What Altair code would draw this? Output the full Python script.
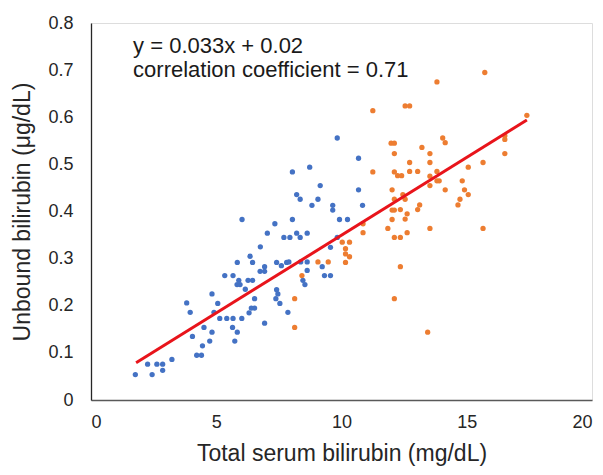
import altair as alt
import pandas as pd

# Blue group (x: total serum bilirubin mg/dL, y: unbound bilirubin µg/dL)
blue_x = [1.77, 2.26, 2.44, 2.63, 2.86, 2.86, 3.23, 3.82, 3.96, 4.05, 4.22, 4.41, 4.45, 4.51,
          4.74, 4.83, 4.83, 5.06, 4.91, 5.14, 5.34, 5.67, 5.83, 5.95, 5.90, 6.27, 6.16, 6.45,
          5.42, 5.67, 6.02, 5.65, 5.84, 5.74, 6.31, 6.53, 6.40, 6.53, 6.93, 6.75, 6.93, 6.93,
          5.84, 6.45, 7.41, 7.60, 7.81, 7.41, 7.38, 7.46, 7.54, 7.86, 8.04, 8.21, 8.35, 6.03,
          7.34, 8.04, 7.04, 7.70, 7.94, 8.21, 8.35, 6.76, 6.35, 9.83, 8.73, 9.15, 9.06, 8.82,
          9.65, 9.65, 10.68, 10.68, 9.92, 10.24, 8.63, 7.90, 8.37, 8.63, 8.63, 9.56, 9.23, 9.32,
          9.56, 8.46, 8.54, 10.84, 9.83]
blue_y = [0.054, 0.076, 0.054, 0.076, 0.076, 0.063, 0.086, 0.206, 0.186, 0.135, 0.095, 0.095, 0.115, 0.154,
          0.125, 0.144, 0.225, 0.205, 0.186, 0.173, 0.264, 0.264, 0.245, 0.245, 0.254, 0.254, 0.235, 0.254,
          0.173, 0.173, 0.173, 0.154, 0.144, 0.125, 0.185, 0.195, 0.195, 0.215, 0.163, 0.273, 0.283, 0.273,
          0.292, 0.292, 0.292, 0.285, 0.292, 0.234, 0.215, 0.225, 0.205, 0.186, 0.484, 0.436, 0.426, 0.383,
          0.374, 0.383, 0.354, 0.345, 0.345, 0.354, 0.345, 0.325, 0.305, 0.556, 0.494, 0.455, 0.426, 0.413,
          0.413, 0.403, 0.446, 0.513, 0.383, 0.383, 0.354, 0.293, 0.293, 0.293, 0.275, 0.324, 0.283, 0.264,
          0.264, 0.254, 0.245, 0.413, 0.345]

# Orange group
orange_x = [8.13, 8.13, 8.42, 9.06, 9.47, 10.03, 10.16, 10.32, 10.16, 10.32, 10.16, 11.25, 11.98, 12.11,
            12.11, 12.11, 12.24, 12.40, 12.02, 12.11, 12.02, 12.11, 12.02, 11.85, 12.11, 12.35, 12.35, 12.11,
            10.86, 10.86, 15.72, 13.81, 12.54, 12.72, 11.25, 13.21, 14.04, 14.14, 16.52, 16.52, 16.52, 13.53,
            13.53, 12.72, 12.72, 13.04, 13.53, 13.53, 13.81, 13.81, 13.90, 14.14, 15.06, 15.65, 14.82, 14.91,
            15.06, 14.73, 14.65, 15.65, 13.53, 12.45, 12.54, 12.35, 12.62, 12.54, 12.62, 13.12, 13.04, 13.44,
            17.40]
orange_y = [0.215, 0.154, 0.264, 0.293, 0.293, 0.335, 0.321, 0.335, 0.310, 0.304, 0.292, 0.484, 0.545, 0.545,
            0.523, 0.484, 0.476, 0.476, 0.446, 0.426, 0.403, 0.403, 0.383, 0.364, 0.345, 0.345, 0.283, 0.215,
            0.355, 0.374, 0.695, 0.675, 0.624, 0.624, 0.614, 0.536, 0.556, 0.546, 0.561, 0.553, 0.523, 0.523,
            0.504, 0.504, 0.485, 0.485, 0.475, 0.455, 0.485, 0.465, 0.465, 0.446, 0.494, 0.504, 0.465, 0.446,
            0.436, 0.426, 0.414, 0.364, 0.364, 0.436, 0.426, 0.404, 0.395, 0.384, 0.355, 0.414, 0.404, 0.144,
            0.604]

# Regression line end points
line_x = [1.8, 17.4]
line_y = [0.079, 0.594]

annot_text = ["y = 0.033x + 0.02", "correlation coefficient = 0.71"]
annot_x = [1.68, 1.68]
annot_y = [0.752, 0.700]

FONT = "Liberation Sans"

pts = pd.DataFrame({
    "x": blue_x + orange_x,
    "y": blue_y + orange_y,
    "g": ["blue"] * len(blue_x) + ["orange"] * len(orange_x),
})
line_df = pd.DataFrame({"x": line_x, "y": line_y})
ann_df = pd.DataFrame({"x": annot_x, "y": annot_y, "t": annot_text})

xs = alt.Scale(domain=[0, 20], nice=False)
ys = alt.Scale(domain=[0, 0.8], nice=False)

x_axis = alt.Axis(title="Total serum bilirubin (mg/dL)", values=[0, 5, 10, 15, 20], grid=False,
                  ticks=False, domainColor="#595959", domainWidth=1.3, labelFont=FONT, labelFontSize=18,
                  labelColor="#262626", labelPadding=13, titleFont=FONT, titleFontSize=23,
                  titleFontWeight="normal", titleColor="#262626", titlePadding=11)
y_axis = alt.Axis(title="Unbound bilirubin (\u03bcg/dL)", values=[0, 0.1, 0.2, 0.3, 0.4, 0.5, 0.6, 0.7, 0.8],
                  format=".1~f", grid=False, ticks=False, domainColor="#262626", domainWidth=1.3,
                  labelFont=FONT, labelFontSize=18, labelColor="#262626", labelPadding=18,
                  titleFont=FONT, titleFontSize=23, titleFontWeight="normal", titleColor="#262626",
                  titlePadding=13)

points = alt.Chart(pts).mark_circle(size=28, opacity=1).encode(
    x=alt.X("x:Q", scale=xs, axis=x_axis),
    y=alt.Y("y:Q", scale=ys, axis=y_axis),
    color=alt.Color("g:N", scale=alt.Scale(domain=["blue", "orange"], range=["#4472C4", "#ED7D31"]),
                    legend=None),
)

line = alt.Chart(line_df).mark_line(color="#E8141B", strokeWidth=3).encode(
    x=alt.X("x:Q", scale=xs), y=alt.Y("y:Q", scale=ys)
)

ann = alt.Chart(ann_df).mark_text(align="left", baseline="middle", font=FONT, fontSize=22,
                                  color="#1a1a1a").encode(
    x=alt.X("x:Q", scale=xs), y=alt.Y("y:Q", scale=ys), text="t:N"
)

chart = alt.layer(points, line, ann).properties(
    width=501, height=377,
    autosize=alt.AutoSizeParams(type="none"),
    padding={"left": 83, "top": 15, "right": 3, "bottom": 67},
).configure_view(stroke=None).configure(background="white")

chart.save("out.html", embed_options={"renderer": "svg", "actions": False})
